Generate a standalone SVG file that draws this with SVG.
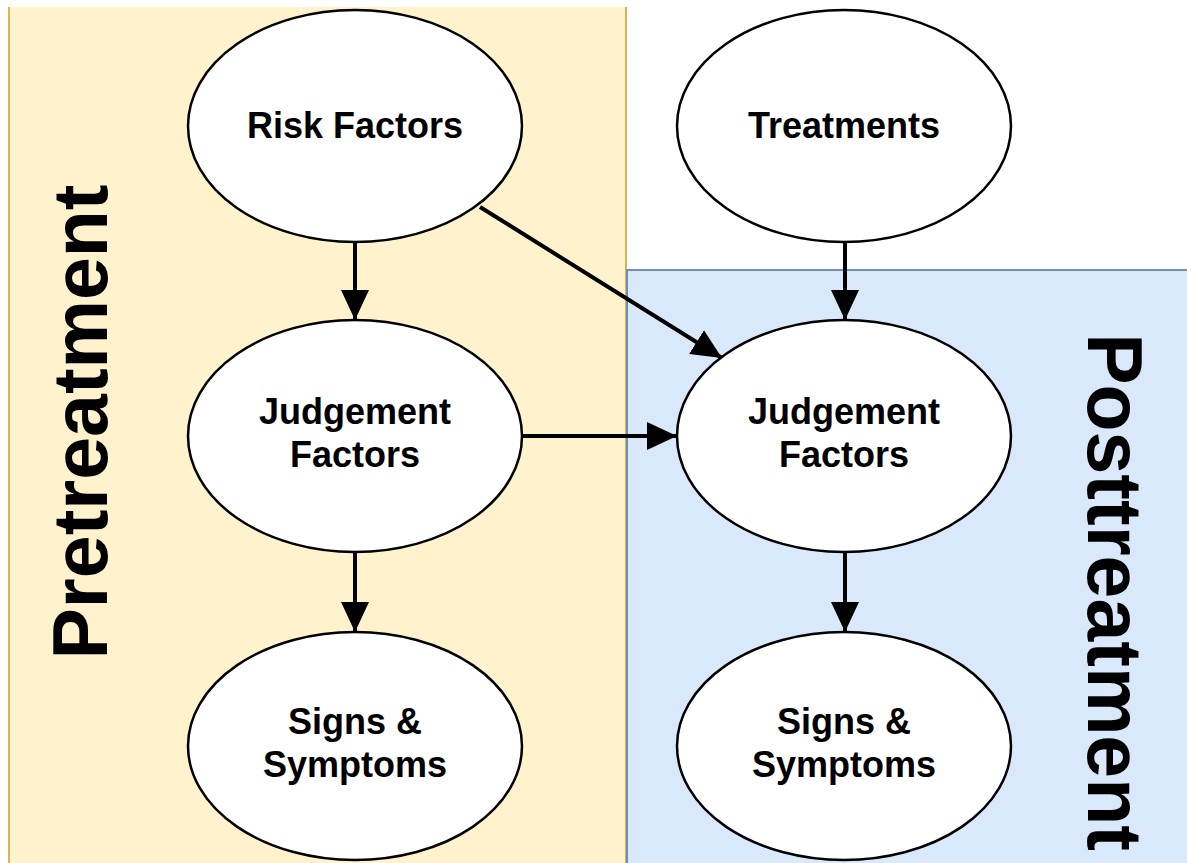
<svg xmlns="http://www.w3.org/2000/svg" width="1187" height="863" viewBox="0 0 1187 863">
<style>
.node ellipse{fill:#ffffff;stroke:#000000;stroke-width:2.5}
.lbl{font-family:"Liberation Sans",Arial,Helvetica,sans-serif;font-weight:bold;font-size:36px;fill:#000;text-anchor:middle}
.big{font-family:"Liberation Sans",Arial,Helvetica,sans-serif;font-weight:bold;font-size:77px;fill:#000;text-anchor:middle}
.edge{stroke:#000;stroke-width:4;fill:none;marker-end:url(#ah)}
</style>
<defs>
<marker id="ah" markerUnits="userSpaceOnUse" markerWidth="32" markerHeight="32" viewBox="0 0 32 32" refX="30" refY="16" orient="auto">
<path d="M0,2 L30,16 L0,30 Z" fill="#000"/>
</marker>
</defs>
<rect width="1187" height="863" fill="#ffffff"/>
<g id="pretreatment-panel">
<rect x="9" y="7" width="617" height="870" fill="#fff2cc"/>
<line x1="9" y1="7" x2="9" y2="863" stroke="#d6b656" stroke-width="2"/>
<line x1="626" y1="7" x2="626" y2="863" stroke="#d6b656" stroke-width="2"/>
<text class="big" transform="translate(107,422) rotate(-90)">Pretreatment</text>
</g>
<g id="posttreatment-panel">
<rect x="627" y="270" width="580" height="620" fill="#dae8fc" stroke="#6c8ebf" stroke-width="2"/>
<text class="big" transform="translate(1088,592) rotate(90)">Posttreatment</text>
</g>
<g id="connectors">
<line class="edge" x1="355" y1="242" x2="355" y2="320"/>
<line class="edge" x1="355" y1="552" x2="355" y2="632"/>
<line class="edge" x1="845" y1="242" x2="845" y2="320"/>
<line class="edge" x1="845" y1="552" x2="845" y2="632"/>
<line class="edge" x1="523" y1="436" x2="677" y2="436"/>
<line class="edge" x1="480" y1="207" x2="722" y2="358"/>
</g>
<g id="risk-factors" class="node">
<ellipse cx="355" cy="126" rx="167" ry="116"/>
<text class="lbl" x="355" y="138">Risk Factors</text>
</g>
<g id="treatments" class="node">
<ellipse cx="844" cy="126" rx="167" ry="116"/>
<text class="lbl" x="844" y="138">Treatments</text>
</g>
<g id="judgement-pre" class="node">
<ellipse cx="355" cy="436" rx="167" ry="116"/>
<text class="lbl" x="355" y="424">Judgement</text>
<text class="lbl" x="355" y="467">Factors</text>
</g>
<g id="judgement-post" class="node">
<ellipse cx="844" cy="436" rx="167" ry="116"/>
<text class="lbl" x="844" y="424">Judgement</text>
<text class="lbl" x="844" y="467">Factors</text>
</g>
<g id="signs-pre" class="node">
<ellipse cx="355" cy="746" rx="167" ry="114"/>
<text class="lbl" x="355" y="734">Signs &amp;</text>
<text class="lbl" x="355" y="777">Symptoms</text>
</g>
<g id="signs-post" class="node">
<ellipse cx="844" cy="746" rx="167" ry="114"/>
<text class="lbl" x="844" y="734">Signs &amp;</text>
<text class="lbl" x="844" y="777">Symptoms</text>
</g>
</svg>
